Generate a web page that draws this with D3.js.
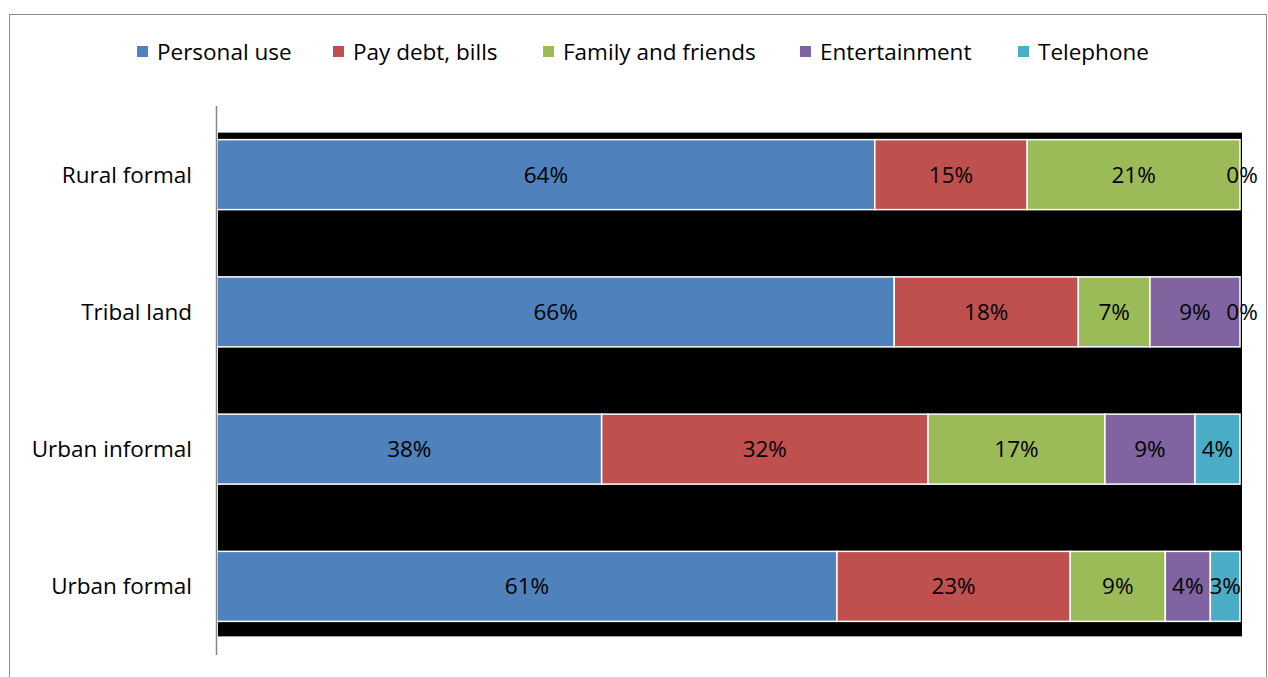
<!DOCTYPE html>
<html>
<head>
    <script src="https://d3js.org/d3.v7.min.js"></script>
    <title>Spending by settlement type</title>
    <style>
        body { margin: 0; background: #fff; }
        svg text { font-family: "Open Sans", "Noto Sans", sans-serif; fill: #000; }
    </style>
</head>
<body>
    <div id="chart"></div>
    <script>
        // categories, top to bottom
        var areas = ["Rural formal", "Tribal land", "Urban informal", "Urban formal"];
        var seriesNames = ["Personal use", "Pay debt, bills", "Family and friends", "Entertainment", "Telephone"];
        var colors = ["#4f81bd", "#c0504d", "#9bbb59", "#8064a2", "#4bacc6"];

        // shares per series, in the order of areas (null = no value)
        var personalUse   = [64.3, 66.2, 37.6, 60.6];
        var payDebt       = [14.9, 18.0, 31.9, 22.8];
        var familyFriends = [20.8, 7.0, 17.3, 9.3];
        var entertainment = [0, 8.8, 8.8, 4.4];
        var telephone     = [null, 0, 4.4, 2.9];

        var seriesValues = [personalUse, payDebt, familyFriends, entertainment, telephone];

        var width = 1268, height = 677;
        var x0 = 217, x1 = 1240;
        var fontSize = 22.5;

        var rows = areas.map(function(a, i) {
            var r = { area: a };
            seriesNames.forEach(function(s, j) { r[s] = seriesValues[j][i]; });
            return r;
        });

        var svg = d3.select('#chart').append('svg')
            .attr('width', width)
            .attr('height', height);

        // outer chart frame
        svg.append('rect')
            .attr('x', 9.5).attr('y', 14.5)
            .attr('width', 1257).attr('height', 700)
            .attr('fill', '#fff')
            .attr('stroke', '#8c8c8c')
            .attr('stroke-width', 1);

        var x = d3.scaleLinear().domain([0, 100]).range([x0, x1]);
        var y = d3.scaleBand().domain(areas).range([106, 655])
            .paddingInner(0.49).paddingOuter(0.245);

        // black plot background
        svg.append('rect')
            .attr('x', x0 + 1)
            .attr('y', y(areas[0]) - 7)
            .attr('width', x1 - x0 + 1)
            .attr('height', y(areas[areas.length - 1]) + y.bandwidth() + 15 - (y(areas[0]) - 7))
            .attr('fill', '#000');

        var stack = d3.stack().keys(seriesNames)
            .value(function(d, k) { return d[k] || 0; });
        var layers = stack(rows);

        var groups = svg.selectAll('.layer')
            .data(layers)
            .enter().append('g')
            .attr('class', 'layer')
            .attr('fill', function(d, i) { return colors[i]; });

        groups.selectAll('rect')
            .data(function(d) { return d.filter(function(p) { return p.data[d.key] > 0; }); })
            .enter().append('rect')
            .attr('x', function(d) { return x(d[0]); })
            .attr('y', function(d) { return y(d.data.area); })
            .attr('width', function(d) { return x(d[1]) - x(d[0]); })
            .attr('height', y.bandwidth())
            .attr('stroke', '#fff')
            .attr('stroke-width', 1.5);

        // data labels
        layers.forEach(function(layer) {
            layer.forEach(function(p) {
                var v = p.data[layer.key];
                if (v === null || v === undefined) return;
                var cx = (x(p[0]) + x(p[1])) / 2;
                if (v === 0) cx += 2;
                svg.append('text')
                    .attr('x', cx)
                    .attr('y', y(p.data.area) + y.bandwidth() / 2)
                    .attr('dy', '0.36em')
                    .attr('text-anchor', 'middle')
                    .attr('font-size', fontSize)
                    .text(Math.round(v) + '%');
            });
        });

        // category axis
        svg.append('line')
            .attr('x1', x0 - 0.5).attr('x2', x0 - 0.5)
            .attr('y1', 106).attr('y2', 655)
            .attr('stroke', '#868686')
            .attr('stroke-width', 1.5);

        svg.selectAll('.cat')
            .data(areas)
            .enter().append('text')
            .attr('class', 'cat')
            .attr('x', 192)
            .attr('y', function(d) { return y(d) + y.bandwidth() / 2; })
            .attr('dy', '0.36em')
            .attr('text-anchor', 'end')
            .attr('font-size', fontSize)
            .text(function(d) { return d; });

        // legend
        var legendX = [137, 333, 543, 800, 1018];
        var legend = svg.selectAll('.legend')
            .data(seriesNames)
            .enter().append('g')
            .attr('class', 'legend')
            .attr('transform', function(d, i) { return 'translate(' + legendX[i] + ',46)'; });

        legend.append('rect')
            .attr('width', 11).attr('height', 11)
            .attr('fill', function(d, i) { return colors[i]; });

        legend.append('text')
            .attr('x', 20)
            .attr('y', 5.5)
            .attr('dy', '0.36em')
            .attr('font-size', fontSize)
            .text(function(d) { return d; });
    </script>
</body>
</html>
